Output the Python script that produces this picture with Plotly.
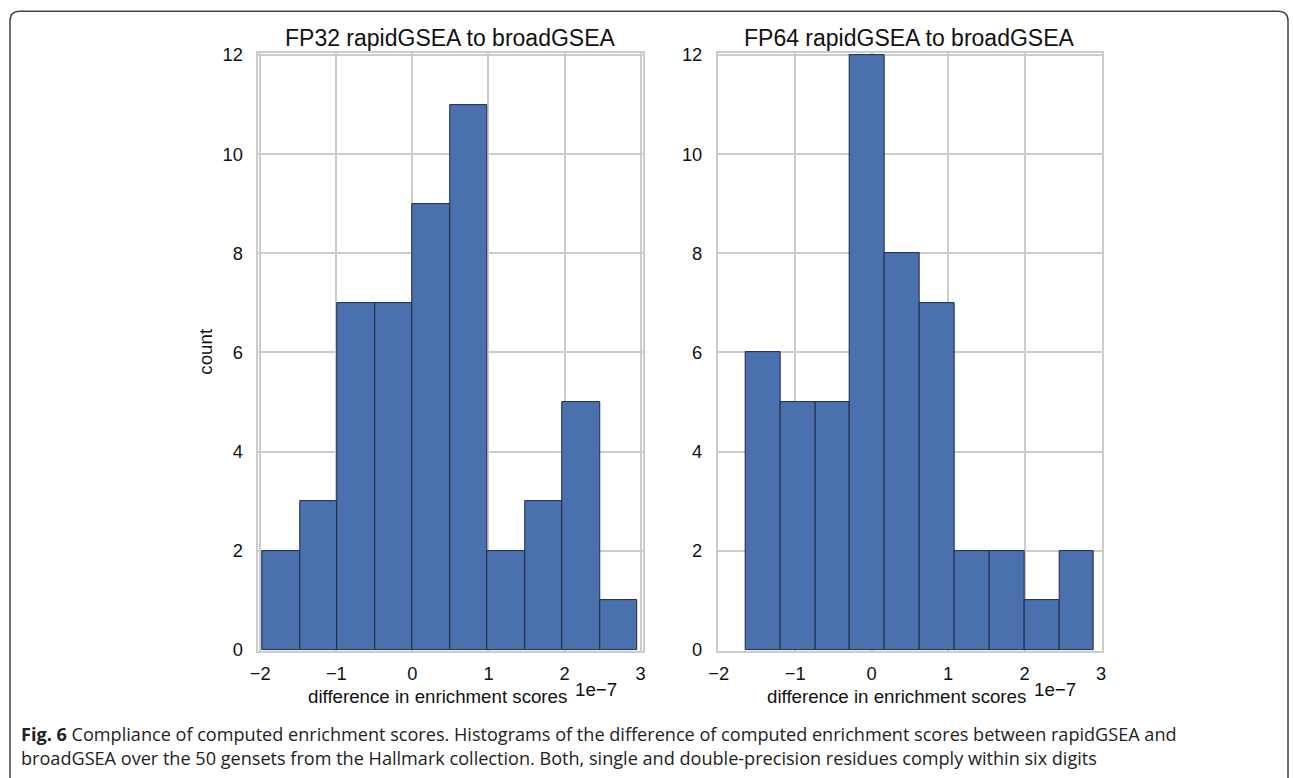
import plotly.graph_objects as go

W, H = 1293, 778
# the photographed page is slightly downscaled and offset (body margin); positions below are
# given in reference-picture pixels and mapped back into figure pixels.
SX, BX, SY, BY = 0.989, 9.0, 0.979, 7.8

# ---- data ----
fp32_edges = [-1.97, -1.477, -0.984, -0.491, 0.002, 0.495, 0.988, 1.481, 1.974, 2.467, 2.96]
fp32_counts = [2, 3, 7, 7, 9, 11, 2, 3, 5, 1]
fp64_edges = [-1.65, -1.194, -0.738, -0.282, 0.174, 0.630, 1.086, 1.542, 1.998, 2.454, 2.91]
fp64_counts = [6, 5, 5, 12, 8, 7, 2, 2, 1, 2]
titles = ["FP32 rapidGSEA to broadGSEA", "FP64 rapidGSEA to broadGSEA"]
x_ticks = [-2, -1, 0, 1, 2, 3]
y_ticks = [0, 2, 4, 6, 8, 10, 12]
x_label = "difference in enrichment scores"
offset_label = "1e\u22127"
y_label = "count"
caption_bold = "Fig. 6"
caption_rest_1 = " Compliance of computed enrichment scores. Histograms of the difference of computed enrichment scores between rapidGSEA and"
caption_rest_2 = "broadGSEA over the 50 gensets from the Hallmark collection. Both, single and double-precision residues comply within six digits"

BAR = "#4a70ae"
EDGE = "#1c2a48"
GRID = "#cccccc"
FONT = "Liberation Sans, Arial, sans-serif"


def fxp(x):
    return (x - BX) / SX


def fyp(y):
    return (y - BY) / SY


def px(x):
    return min(max(fxp(x), 1.0), W - 1.0) / W


def py(y):
    return 1 - min(max(fyp(y), 1.0), H * 2) / H


fig = go.Figure()

for i, (edges, counts) in enumerate([(fp32_edges, fp32_counts), (fp64_edges, fp64_counts)]):
    centers = [(edges[k] + edges[k + 1]) / 2 for k in range(len(counts))]
    widths = [edges[k + 1] - edges[k] for k in range(len(counts))]
    fig.add_trace(go.Bar(
        x=centers, y=counts, width=widths,
        marker=dict(color=BAR, line=dict(color=EDGE, width=1)),
        xaxis="x" if i == 0 else "x2", yaxis="y" if i == 0 else "y2",
        showlegend=False, hoverinfo="skip",
    ))

common_x = dict(
    tickvals=x_ticks, showgrid=True, gridcolor=GRID, gridwidth=1.5,
    zeroline=False, showline=True, linecolor=GRID, linewidth=1.5, mirror=True,
    ticks="", tickfont=dict(family=FONT, size=18.3, color="#111"),
    ticklabelstandoff=5,
)
common_y = dict(
    tickvals=y_ticks, showgrid=True, gridcolor=GRID, gridwidth=1.5,
    zeroline=False, showline=True, linecolor=GRID, linewidth=1.5, mirror=True,
    ticks="", tickfont=dict(family=FONT, size=18.3, color="#111"),
    range=[-0.02, 12.04], ticklabelstandoff=10,
)

y_dom = [py(651), py(52)]
fig.update_layout(
    width=W, height=H,
    margin=dict(l=0, r=0, t=0, b=0),
    paper_bgcolor="white", plot_bgcolor="white",
    bargap=0,
    xaxis=dict(domain=[px(258), px(642)], range=[-2.026, 3.026], anchor="y", **common_x),
    yaxis=dict(domain=y_dom, anchor="x", **common_y),
    xaxis2=dict(domain=[px(717), px(1101)], range=[-2.013, 3.013], anchor="y2", **common_x),
    yaxis2=dict(domain=y_dom, anchor="x2", **common_y),
)

anns = []
# panel titles
for cx, t in [(450, titles[0]), (909, titles[1])]:
    anns.append(dict(x=px(cx), y=py(37), xref="paper", yref="paper", text=t, showarrow=False,
                     xanchor="center", yanchor="middle", font=dict(family=FONT, size=23, color="#111")))
# x labels and offsets
for lx, ox in [(306, 572), (764, 1031)]:
    anns.append(dict(x=px(lx), y=py(697), xref="paper", yref="paper", text=x_label, showarrow=False,
                     xanchor="left", yanchor="middle", font=dict(family=FONT, size=18.7, color="#111")))
    anns.append(dict(x=px(ox), y=py(690), xref="paper", yref="paper", text=offset_label, showarrow=False,
                     xanchor="left", yanchor="middle", font=dict(family=FONT, size=18.7, color="#111")))
# y label
anns.append(dict(x=px(205), y=py(351), xref="paper", yref="paper", text=y_label, showarrow=False,
                 textangle=-90, xanchor="center", yanchor="middle", font=dict(family=FONT, size=18.7, color="#111")))
# caption
anns.append(dict(x=px(19), y=py(746), xref="paper", yref="paper",
                 text=f"<b>{caption_bold}</b>{caption_rest_1}<br>{caption_rest_2}",
                 showarrow=False, xanchor="left", yanchor="middle", align="left",
                 font=dict(family="Open Sans, sans-serif", size=18.1, color="#222")))
fig.update_layout(annotations=anns)

# rounded frame
x0, y0, x1, y1 = px(9), py(10), px(1295), py(810)
rx, ry = 10 / W, 10 / H
path = (f"M {x0},{y1} L {x0},{y0 - ry} Q {x0},{y0} {x0 + rx},{y0} "
        f"L {x1 - rx},{y0} Q {x1},{y0} {x1},{y0 - ry} L {x1},{y1}")
fig.add_shape(type="path", path=path, xref="paper", yref="paper",
              line=dict(color="#444", width=1.5), layer="above")

fig.write_html("out.html")
